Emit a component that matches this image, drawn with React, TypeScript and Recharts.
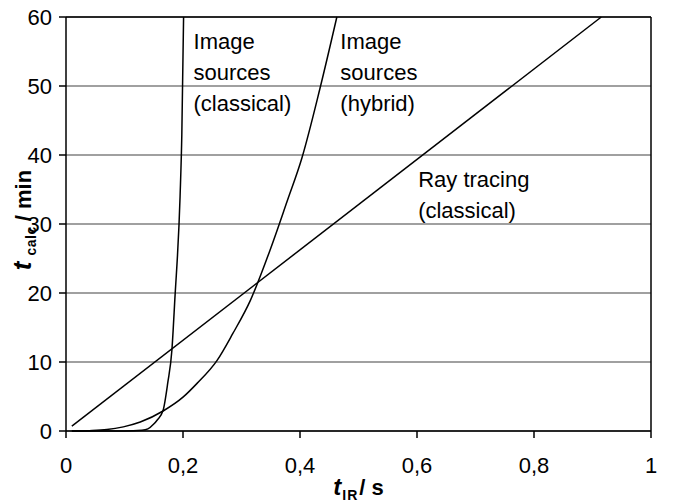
import React from "react";
import {
  LineChart,
  Line,
  XAxis,
  YAxis,
  CartesianGrid,
  ReferenceLine,
  ReferenceDot,
} from "recharts";

const rayX = [0.01, 0.915];
const rayY = [0.7, 60];

const classicX = [0.01, 0.1, 0.13, 0.14, 0.15, 0.156, 0.166, 0.174, 0.181, 0.186, 0.195, 0.198, 0.201];
const classicY = [0, 0, 0.1, 0.3, 1, 1.6, 3, 7, 11.7, 19, 34, 43, 60];

const hybridX = [0.01, 0.04, 0.07, 0.098, 0.127, 0.166, 0.2, 0.224, 0.258, 0.285, 0.315, 0.35, 0.378, 0.403, 0.434, 0.463];
const hybridY = [0, 0.05, 0.2, 0.6, 1.3, 2.9, 4.9, 6.9, 10.2, 14.1, 18.9, 26.5, 33.3, 39.5, 49.6, 60];

const xTicks = [0, 0.2, 0.4, 0.6, 0.8, 1];
const yTicks = [0, 10, 20, 30, 40, 50, 60];

const notes = [
  { x: 0.218, y: 55.3, lines: ["Image", "sources", "(classical)"] },
  { x: 0.469, y: 55.3, lines: ["Image", "sources", "(hybrid)"] },
  { x: 0.602, y: 35.3, lines: ["Ray tracing", "(classical)"] },
];

const toPoints = (xs: number[], ys: number[]) => xs.map((x, i) => ({ x, y: ys[i] }));

const FONT = '"Liberation Sans", Arial, sans-serif';

const NoteText = (lines: string[]) => (props: any) => {
  const { x, y } = props.viewBox;
  return (
    <text x={x} y={y} fontSize={22} fontFamily={FONT} fill="#000">
      {lines.map((l, i) => (
        <tspan key={i} x={x} dy={i === 0 ? 0 : 31}>
          {l}
        </tspan>
      ))}
    </text>
  );
};

const XLabel = (props: any) => {
  const { x, width } = props.viewBox;
  return (
    <text x={x + width / 2} y={495} textAnchor="middle" fontFamily={FONT} fontWeight="bold" fontSize={22} fill="#000">
      <tspan fontStyle="italic" fontSize={24}>t</tspan>
      <tspan fontSize={14} dx={1} dy={5} letterSpacing={1}>IR</tspan>
      <tspan dx={1} dy={-5}>/ s</tspan>
    </text>
  );
};

const YLabel = () => (
  <text
    x={31}
    y={220}
    transform="rotate(-90, 31, 220)"
    textAnchor="middle"
    fontFamily={FONT}
    fontWeight="bold"
    fontSize={22}
    fill="#000"
  >
    <tspan fontStyle="italic" fontSize={26}>t</tspan>
    <tspan fontSize={14} dx={6} dy={5} letterSpacing={0.5}>calc</tspan>
    <tspan dx={5} dy={-5}>/ min</tspan>
  </text>
);

const App = () => {
  return (
    <div style={{ width: 674, height: 502 }}>
      <style>{`body{margin:0}`}</style>
      <LineChart width={674} height={502} margin={{ top: 17, right: 23, left: 0, bottom: 0 }}>
        <CartesianGrid vertical={false} stroke="#808080" strokeWidth={1.5} />
        <XAxis
          type="number"
          dataKey="x"
          domain={[0, 1]}
          ticks={xTicks}
          tickFormatter={(v: number) => String(v).replace(".", ",")}
          tick={{ fill: "#000", fontSize: 22, fontFamily: FONT }}
          tickSize={7}
          tickMargin={19}
          axisLine={{ stroke: "#000", strokeWidth: 1.5 }}
          tickLine={{ stroke: "#000", strokeWidth: 1.5 }}
          height={71}
          label={<XLabel />}
        />
        <YAxis
          type="number"
          domain={[0, 60]}
          ticks={yTicks}
          tick={{ fill: "#000", fontSize: 22, fontFamily: FONT }}
          tickSize={7}
          tickMargin={7}
          axisLine={{ stroke: "#000", strokeWidth: 1.5 }}
          tickLine={{ stroke: "#000", strokeWidth: 1.5 }}
          width={66}
          label={<YLabel />}
        />
        <ReferenceLine y={60} stroke="#000" strokeWidth={1.5} />
        <ReferenceLine x={1} stroke="#000" strokeWidth={1.5} />
        <Line
          data={toPoints(rayX, rayY)}
          dataKey="y"
          type="linear"
          stroke="#000"
          strokeWidth={1.5}
          dot={false}
          isAnimationActive={false}
        />
        <Line
          data={toPoints(classicX, classicY)}
          dataKey="y"
          type="monotone"
          stroke="#000"
          strokeWidth={1.5}
          dot={false}
          isAnimationActive={false}
        />
        <Line
          data={toPoints(hybridX, hybridY)}
          dataKey="y"
          type="monotone"
          stroke="#000"
          strokeWidth={1.5}
          dot={false}
          isAnimationActive={false}
        />
        {notes.map((n, i) => (
          <ReferenceDot key={i} x={n.x} y={n.y} r={0} fill="none" stroke="none" label={NoteText(n.lines)} />
        ))}
      </LineChart>
    </div>
  );
};

export default App;
